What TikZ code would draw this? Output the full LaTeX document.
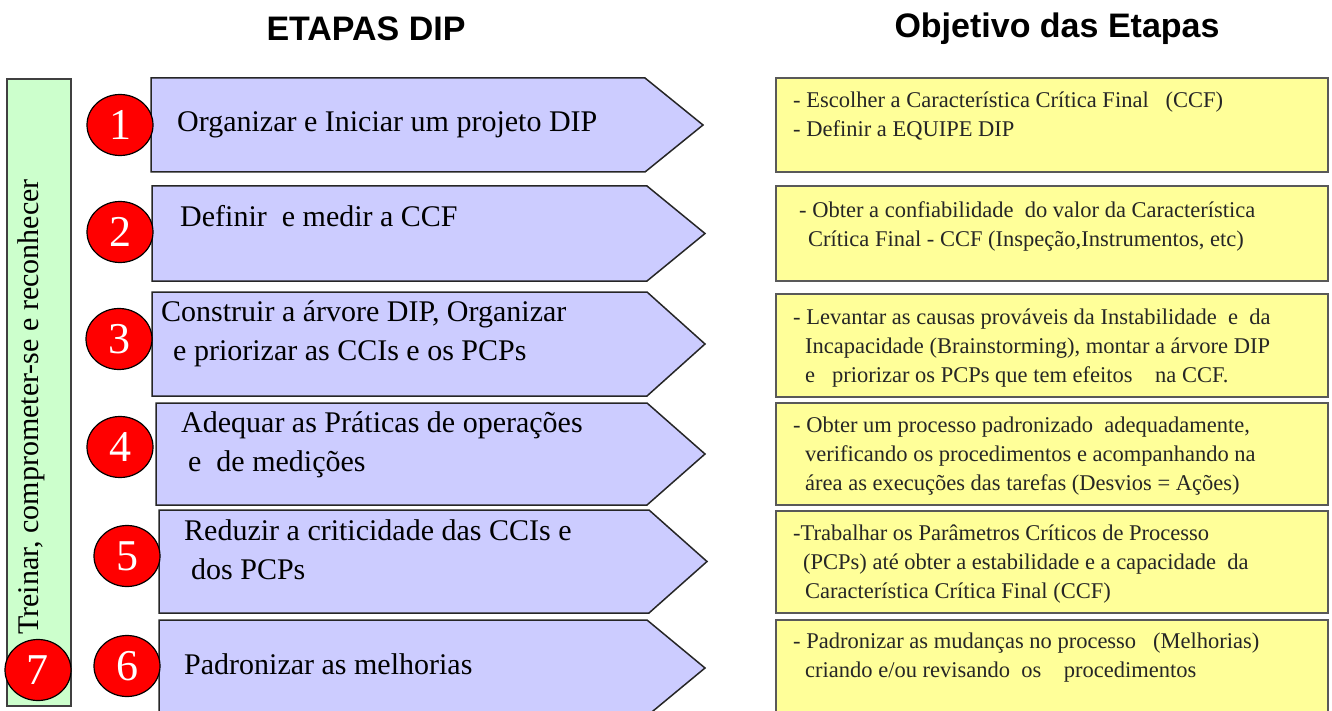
\documentclass[tikz,border=0pt]{standalone}
\usepackage{fontspec}
\setmainfont{Liberation Serif}
\newfontfamily\titlefont{Liberation Sans}
\usetikzlibrary{shapes.geometric}
\definecolor{lilas}{RGB}{204,204,255}
\definecolor{amarelo}{RGB}{255,255,153}
\definecolor{verdeclaro}{RGB}{204,255,204}
\tikzset{
  etapabox/.style={draw=black!85,line width=1.5pt,fill=lilas},
  objbox/.style={draw=black!65,line width=2pt,fill=amarelo},
  numcirc/.style={ellipse,draw=black,line width=1.2pt,fill=red,text=white,
    minimum width=66pt,minimum height=61pt,inner sep=0pt,
    font=\fontsize{44}{44}\selectfont},
  etapatxt/.style={anchor=west,align=left,inner sep=0pt,font=\fontsize{30}{39}\selectfont},
  objtxt/.style={anchor=west,align=left,inner sep=0pt,text=black!85,
    font=\fontsize{22.5}{29}\selectfont},
  titulo/.style={font=\titlefont\bfseries\fontsize{34}{34}\selectfont},
}
\newcommand{\etapa}[4]{%
  \draw[etapabox] (#1,#2) -- ({#4-58},#2) -- (#4,{(#2+#3)/2}) -- ({#4-58},#3) -- (#1,#3) -- cycle;
}
\newcommand{\objetivo}[2]{%
  \draw[objbox] (776,#1) rectangle (1328,#2);
}
\newcommand{\numero}[4]{%
  \node[numcirc] (#1) at (#2,#3) {#4};
}

\begin{document}
\begin{tikzpicture}[x=1pt,y=-1pt]
  \useasboundingbox (0,0) rectangle (1332,711);

  \node[titulo] (tit1) at (366,29) {ETAPAS DIP};
  \node[titulo] (tit2) at (1057,29) {Objetivo das Etapas};

  \draw[draw=black!75,line width=1.5pt,fill=verdeclaro] (7,79) rectangle (71,706);
  \node[rotate=90,font=\fontsize{30}{30}\selectfont] (treinar) at (31,407) {Treinar, comprometer-se e reconhecer};

  \etapa{151}{78}{172}{703}
  \etapa{152}{186}{281}{705}
  \etapa{152}{292}{396}{705}
  \etapa{156}{403}{505}{705}
  \etapa{159}{510}{613}{707}
  \etapa{159}{620}{716}{705}

  \node[etapatxt] (e1) at (177,125) {Organizar e Iniciar um projeto DIP};
  \node[etapatxt] (e2) at (180,216) {Definir\ \ e medir a CCF};
  \node[etapatxt] (e3) at (161,334) {Construir a árvore DIP, Organizar\\\hspace*{12pt}e priorizar as CCIs e os PCPs};
  \node[etapatxt] (e4) at (181,445) {Adequar as Práticas de operações\\\hspace*{7pt}e\ \ de medições};
  \node[etapatxt] (e5) at (184,550) {Reduzir a criticidade das CCIs e\\\hspace*{7pt}dos PCPs};
  \node[etapatxt] (e6) at (184,664) {Padronizar as melhorias};

  \numero{n1}{120}{125}{1}
  \numero{n2}{120}{232}{2}
  \numero{n3}{119}{339}{3}
  \numero{n4}{120}{447}{4}
  \numero{n5}{127}{556}{5}
  \numero{n6}{127}{666}{6}
  \numero{n7}{38}{670}{7}

  \objetivo{78}{172}
  \objetivo{186}{281}
  \objetivo{294}{397}
  \objetivo{403}{505}
  \objetivo{511}{613}
  \objetivo{620}{716}

  \node[objtxt] (o1) at (793,116) {- Escolher a Característica Crítica Final\ \ \ (CCF)\\- Definir a EQUIPE DIP};
  \node[objtxt] (o2) at (799,226) {- Obter a confiabilidade\ \ do valor da Característica\\\hspace*{9pt}Crítica Final - CCF (Inspeção,Instrumentos, etc)};
  \node[objtxt] (o3) at (793,348) {- Levantar as causas prováveis da Instabilidade\ \ e\ \ da\\\hspace*{12pt}Incapacidade (Brainstorming), montar a árvore DIP\\\hspace*{12pt}e\ \ \ priorizar os PCPs que tem efeitos\ \ \ \ na CCF.};
  \node[objtxt] (o4) at (793,456) {- Obter um processo padronizado\ \ adequadamente,\\\hspace*{12pt}verificando os procedimentos e acompanhando na\\\hspace*{12pt}área as execuções das tarefas (Desvios = Ações)};
  \node[objtxt] (o5) at (793,564) {-Trabalhar os Parâmetros Críticos de Processo\\\hspace*{10pt}(PCPs) até obter a estabilidade e a capacidade\ \ da\\\hspace*{12pt}Característica Crítica Final (CCF)};
  \node[objtxt] (o6) at (793,658) {- Padronizar as mudanças no processo\ \ \ (Melhorias)\\\hspace*{12pt}criando e/ou revisando\ \ os\ \ \ \ procedimentos};
\end{tikzpicture}
\end{document}
